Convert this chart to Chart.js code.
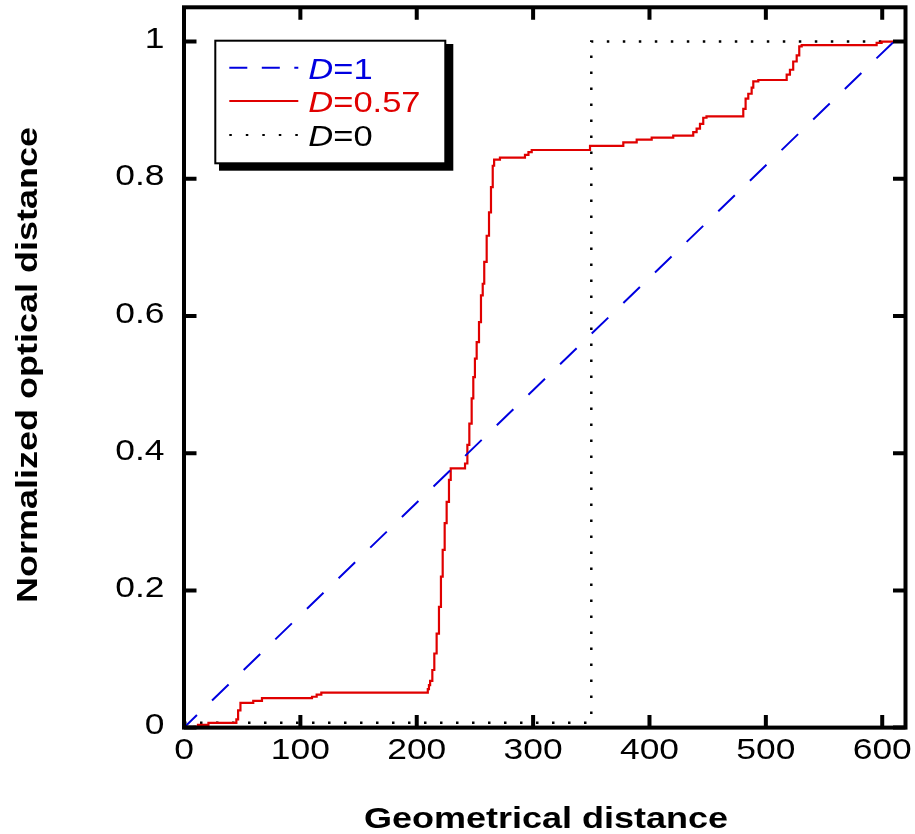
<!DOCTYPE html>
<html>
<head>
<meta charset="utf-8">
<script src="https://cdn.jsdelivr.net/npm/chart.js@4.4.1/dist/chart.umd.min.js"></script>
<style>
  html, body { margin: 0; padding: 0; background: #fff; }
  canvas { display: block; }
</style>
</head>
<body>
<canvas id="chart" width="915" height="834"></canvas>
<script>
// ---- data ----
const xTicks = [0, 100, 200, 300, 400, 500, 600];
const xTickLabels = ['0', '100', '200', '300', '400', '500', '600'];
const yTicks = [0, 0.2, 0.4, 0.6, 0.8, 1];
const yTickLabels = ['0', '0.2', '0.4', '0.6', '0.8', '1'];

const seriesValues = ['1', '0.57', '0'];          // values of D shown in the legend
const seriesColors = ['#0000e0', '#e00000', '#000000'];

// D = 1 : straight line
const d1X = [0, 610];
const d1Y = [0, 1];

// D = 0.57 : staircase (value changes at each x)
const d057X = [8, 12, 21, 45, 46.5, 48.5, 59.5, 67, 110, 114, 118,
  209.5, 210.5, 211.5, 213.4, 215.1, 217.1, 219.1, 220.8, 222.3, 224.0, 225.7, 227.7, 229.2,
  241.5, 243.5, 245.2, 247.2, 248.6, 250.0, 251.5, 253.5, 255.2, 256.7, 258.0, 260.1, 262.1, 263.8, 265.3, 266.5, 271.5,
  293, 296, 298.8, 348.9, 377.5, 389, 401.9, 420.4,
  437.6, 440.5, 443.4, 446.2, 449, 480.6, 482.6, 484.9, 487.8, 489.2, 493.5, 517.9, 520.7, 523.5, 526.5, 528.7, 530.8, 595.2, 599.5, 609.5];
const d057Y = [0.001, 0.004, 0.007, 0.012, 0.025, 0.036, 0.039, 0.043, 0.045, 0.048, 0.051,
  0.056, 0.062, 0.068, 0.084, 0.108, 0.137, 0.176, 0.220, 0.259, 0.298, 0.329, 0.361, 0.378,
  0.385, 0.412, 0.443, 0.480, 0.511, 0.538, 0.562, 0.591, 0.630, 0.647, 0.679, 0.717, 0.751, 0.788, 0.819, 0.828, 0.831,
  0.835, 0.839, 0.842, 0.848, 0.853, 0.857, 0.860, 0.863,
  0.868, 0.873, 0.880, 0.889, 0.891, 0.902, 0.917, 0.924, 0.933, 0.942, 0.944, 0.952, 0.959, 0.971, 0.980, 0.993, 0.995, 0.998, 1.0, 1.0];

// D = 0 : step at the midpoint
const d0X = [0, 350, 350, 610];
const d0Y = [0.007, 0.007, 1, 1];

const xTitle = 'Geometrical distance';
const yTitle = 'Normalized optical distance';

// ---- helpers ----
const FONT = "'Liberation Sans', Arial, Helvetica, sans-serif";
const zip = (xs, ys) => xs.map((x, i) => ({ x, y: ys[i] }));

function stretchedText(ctx, str, x, y, font, color, sx, align) {
  ctx.save();
  ctx.font = font;
  ctx.fillStyle = color;
  ctx.textAlign = align || 'left';
  ctx.textBaseline = 'alphabetic';
  ctx.translate(x, y);
  ctx.scale(sx, 1);
  ctx.fillText(str, 0, 0);
  const w = ctx.measureText(str).width * sx;
  ctx.restore();
  return w;
}

// frame, inward ticks, tick labels, titles and boxed legend
const decorations = {
  id: 'decorations',
  beforeDraw(chart) {
    const ctx = chart.ctx;
    ctx.save();
    ctx.fillStyle = '#fff';
    ctx.fillRect(0, 0, chart.width, chart.height);
    ctx.restore();
  },
  afterDraw(chart) {
    const { ctx, chartArea: a, scales: { x, y } } = chart;
    const tl = 12.5;
    ctx.save();
    ctx.strokeStyle = '#000';
    ctx.lineWidth = 4;
    ctx.lineCap = 'butt';
    ctx.beginPath();
    xTicks.forEach(v => {
      const px = x.getPixelForValue(v);
      ctx.moveTo(px, a.bottom); ctx.lineTo(px, a.bottom - tl);
      ctx.moveTo(px, a.top); ctx.lineTo(px, a.top + tl);
    });
    yTicks.forEach(v => {
      const py = y.getPixelForValue(v);
      ctx.moveTo(a.left, py); ctx.lineTo(a.left + tl, py);
      ctx.moveTo(a.right, py); ctx.lineTo(a.right - tl, py);
    });
    ctx.stroke();
    ctx.lineJoin = 'miter';
    ctx.strokeRect(a.left, a.top, a.right - a.left, a.bottom - a.top);
    ctx.restore();

    // tick labels
    const tickFont = '29.5px ' + FONT;
    xTicks.forEach((v, i) => {
      stretchedText(ctx, xTickLabels[i], x.getPixelForValue(v), 759, tickFont, '#000', 1.2, 'center');
    });
    yTicks.forEach((v, i) => {
      stretchedText(ctx, yTickLabels[i], 164.5, y.getPixelForValue(v) + 6.6, tickFont, '#000', 1.2, 'right');
    });

    // axis titles
    const titleFont = 'bold 30px ' + FONT;
    stretchedText(ctx, xTitle, 546, 828, titleFont, '#000', 1.2, 'center');
    ctx.save();
    ctx.translate(37, 365);
    ctx.rotate(-Math.PI / 2);
    stretchedText(ctx, yTitle, 0, 0, titleFont, '#000', 1.2, 'center');
    ctx.restore();

    // legend box with drop shadow
    const bx = 215.3, by = 40.7, bw = 230, bh = 122.6;
    ctx.save();
    ctx.fillStyle = '#000';
    ctx.fillRect(219, 44, 234.3, 126.7);
    ctx.fillStyle = '#fff';
    ctx.fillRect(bx, by, bw, bh);
    ctx.strokeStyle = '#000';
    ctx.lineWidth = 2;
    ctx.strokeRect(bx, by, bw, bh);
    ctx.restore();

    const rows = [67.7, 101, 135];
    const dashes = [[18, 14.5], [], [2.5, 14]];
    chart.data.datasets.forEach((ds, i) => {
      const ly = rows[i];
      ctx.save();
      ctx.strokeStyle = ds.borderColor;
      ctx.lineWidth = 2;
      ctx.setLineDash(dashes[i]);
      ctx.beginPath();
      ctx.moveTo(229.3, ly);
      ctx.lineTo(298.3, ly);
      ctx.stroke();
      ctx.restore();
      const base = ly + 11;
      let tx = 308.3;
      tx += stretchedText(ctx, 'D', tx, base, 'italic 29px ' + FONT, seriesColors[i], 1.19, 'left');
      stretchedText(ctx, '=' + seriesValues[i], tx, base, '29px ' + FONT, seriesColors[i], 1.19, 'left');
    });
  }
};

new Chart(document.getElementById('chart'), {
  type: 'scatter',
  data: {
    datasets: [
      {
        label: 'D=' + seriesValues[0],
        data: zip(d1X, d1Y),
        showLine: true,
        borderColor: seriesColors[0],
        borderWidth: 2,
        borderDash: [23, 21],
        borderDashOffset: 5,
        pointRadius: 0
      },
      {
        label: 'D=' + seriesValues[1],
        data: zip(d057X, d057Y),
        showLine: true,
        stepped: 'before',
        borderColor: seriesColors[1],
        borderWidth: 2.2,
        pointRadius: 0
      },
      {
        label: 'D=' + seriesValues[2],
        data: zip(d0X, d0Y),
        showLine: true,
        borderColor: seriesColors[2],
        borderWidth: 2.5,
        borderDash: [2.5, 13.5],
        pointRadius: 0
      }
    ]
  },
  options: {
    responsive: false,
    animation: false,
    devicePixelRatio: 1,
    layout: { padding: { top: 7.3, right: 9.5, left: 0, bottom: 0 } },
    plugins: { legend: { display: false }, tooltip: { enabled: false } },
    scales: {
      x: {
        type: 'linear', min: 0, max: 620,
        grid: { display: false }, border: { display: false },
        ticks: { display: false },
        afterBuildTicks: s => { s.ticks = xTicks.map(v => ({ value: v })); },
        afterFit: s => { s.height = 106.4; }
      },
      y: {
        type: 'linear', min: 0, max: 1.05,
        grid: { display: false }, border: { display: false },
        ticks: { display: false },
        afterBuildTicks: s => { s.ticks = yTicks.map(v => ({ value: v })); },
        afterFit: s => { s.width = 184; }
      }
    }
  },
  plugins: [decorations]
});
</script>
</body>
</html>
